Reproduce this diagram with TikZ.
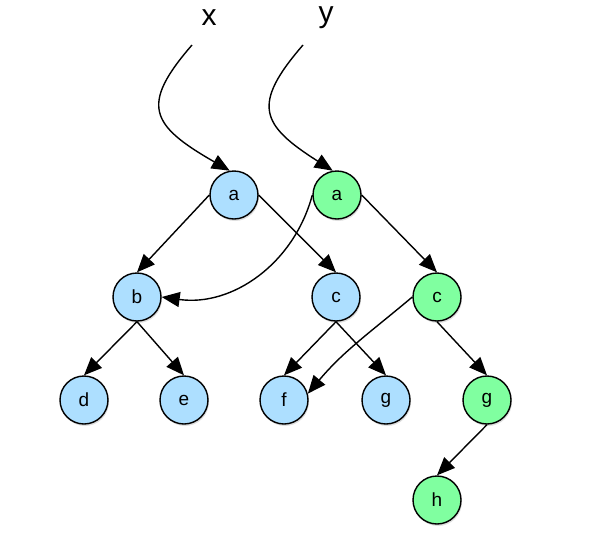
\documentclass[tikz,border=0pt]{standalone}
\usepackage{fontspec}
\setmainfont{Liberation Sans}
\usepackage{tikz}
\usetikzlibrary{arrows.meta,positioning,shadows}

\definecolor{oldblue}{RGB}{173,223,255}
\definecolor{newgreen}{RGB}{128,255,160}

\tikzset{
  treenode/.style={circle, draw, line width=1.4pt, minimum size=48pt, inner sep=0pt,
    font=\fontsize{19}{22}\selectfont,
    drop shadow={opacity=0.25, shadow xshift=1pt, shadow yshift=-2pt}},
  oldnode/.style={treenode, fill=oldblue},
  newnode/.style={treenode, fill=newgreen},
  ptr/.style={line width=1.4pt, -{Triangle[length=18pt, width=15pt]}},
  varname/.style={font=\fontsize{30}{32}\selectfont}
}

\begin{document}
\begin{tikzpicture}[x=1pt, y=-1pt]
  \useasboundingbox (0,0) rectangle (594,544);

  % old tree
  \node[oldnode] (a) at (234,195) {a};
  \node[oldnode] (b) at (137,297) {b};
  \node[oldnode] (c) at (336,297) {c};
  \node[oldnode] (d) at (84,400) {d};
  \node[oldnode] (e) at (184,400) {e};
  \node[oldnode] (f) at (284,400) {f};
  \node[oldnode] (g) at (386,400) {g};

  % new path
  \node[newnode] (a2) at (337,195) {a};
  \node[newnode] (c2) at (437,297) {c};
  \node[newnode] (g2) at (487,400) {g};
  \node[newnode] (h) at (437,500) {h};

  % variables
  \node[varname] (x) at (209,18) {x};
  \node[varname] (y) at (326,18) {y};
  \coordinate (xs) at (192,45);
  \coordinate (ys) at (303,45);

  \draw[ptr] (xs) .. controls (140,105) and (150,125) .. (a.100);
  \draw[ptr] (ys) .. controls (251,105) and (261,125) .. (a2.100);

  \draw[ptr] (a.west) -- (b.north);
  \draw[ptr] (a.east) -- (c.north);
  \draw[ptr] (b.south) -- (d.north);
  \draw[ptr] (b.south) -- (e.north);
  \draw[ptr] (c.south) -- (f.north);
  \draw[ptr] (c.south) -- (g.north);

  \draw[ptr] (a2.east) -- (c2.north);
  \draw[ptr] (c2.south) -- (g2.north);
  \draw[ptr] (g2.south) -- (h.north);
  \draw[ptr] (a2.west) to[out=255, in=-8] (b.east);
  \draw[ptr] (c2.west) to[out=220, in=50] (f.15);
\end{tikzpicture}
\end{document}
